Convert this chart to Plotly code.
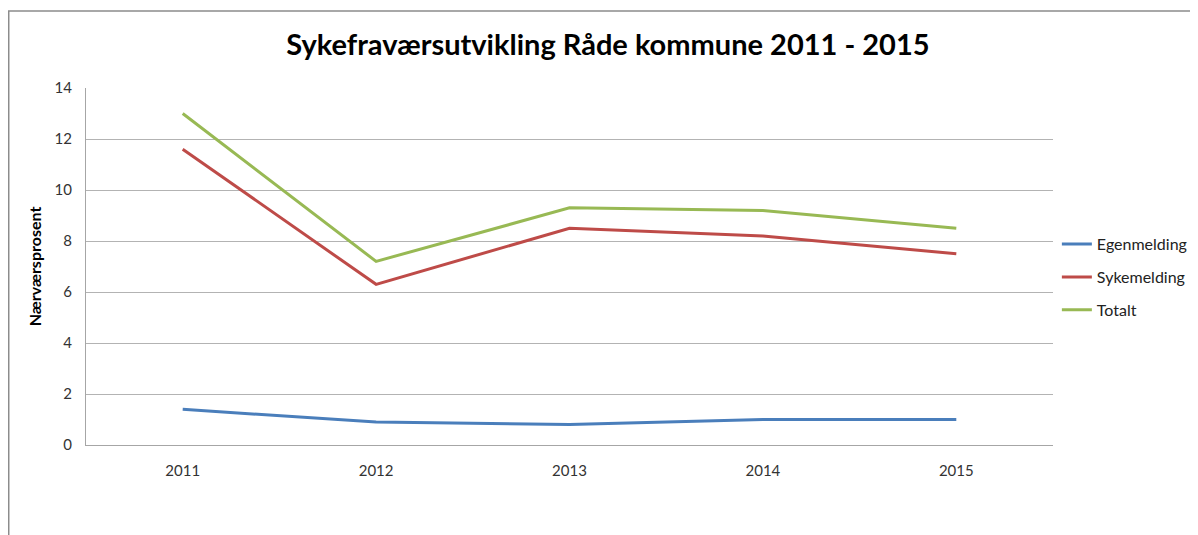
"""Sykefraværsutvikling Råde kommune 2011 - 2015 as a plotly line chart."""

import plotly.graph_objects as go

years = ["2011", "2012", "2013", "2014", "2015"]
egenmelding = [1.4, 0.9, 0.8, 1.0, 1.0]
sykemelding = [11.6, 6.3, 8.5, 8.2, 7.5]
totalt = [13.0, 7.2, 9.3, 9.2, 8.5]

series = [
    ("Egenmelding", egenmelding, "#4A7EBB"),
    ("Sykemelding", sykemelding, "#BE4B48"),
    ("Totalt", totalt, "#98B954"),
]

fig = go.Figure()

for name, values, color in series:
    fig.add_trace(go.Scatter(
        x=years,
        y=values,
        mode="lines",
        name=name,
        legendgroup=name,  # separate groups so tracegroupgap spaces the items
        line=dict(color=color, width=3),
    ))

# Outer chart frame (only top/left edges visible in the picture)
fig.add_shape(
    type="rect", xref="paper", yref="paper",
    x0=-0.0799, x1=1.5, y0=-0.6, y1=1.2157,
    line=dict(color="#8C8C8C", width=1.5),
    fillcolor="rgba(0,0,0,0)",
    layer="below",
)

# page body has an 8px margin, so the margins are shifted by that amount
fig.update_layout(
    width=1198,
    height=535,
    margin=dict(l=78, r=153, t=80, b=98, autoexpand=False),
    paper_bgcolor="white",
    plot_bgcolor="white",
    font=dict(family="Lato, 'Open Sans', sans-serif", color="#333333", size=13),
    title=dict(
        text="<b>Sykefraværsutvikling Råde kommune 2011 - 2015</b>",
        x=0.5008, xanchor="center",
        y=0.931, yanchor="middle",
        font=dict(size=29, color="#000000"),
    ),
    showlegend=True,
    legend=dict(
        x=1.004, xanchor="left",
        y=0.47, yanchor="middle",
        font=dict(size=16, color="#222222"),
        tracegroupgap=9,
        itemwidth=30,
        bgcolor="rgba(0,0,0,0)",
    ),
    xaxis=dict(
        type="category",
        range=[-0.5, 4.5],
        showgrid=False,
        showline=True,
        linecolor="#A6A6A6",
        linewidth=1,
        ticks="",
        ticklabelstandoff=12,
        tickfont=dict(size=15),
        zeroline=False,
    ),
    yaxis=dict(
        range=[0, 14],
        dtick=2,
        tickformat="d",
        showgrid=True,
        gridcolor="#B3B3B3",
        gridwidth=1,
        showline=True,
        linecolor="#A6A6A6",
        linewidth=1,
        ticks="",
        ticklabelstandoff=10,
        tickfont=dict(size=15),
        zeroline=False,
        title=dict(
            text="<b>Nærværsprosent</b>",
            font=dict(size=16, color="#000000"),
            standoff=8,
        ),
    ),
)

fig.write_html("out.html")
